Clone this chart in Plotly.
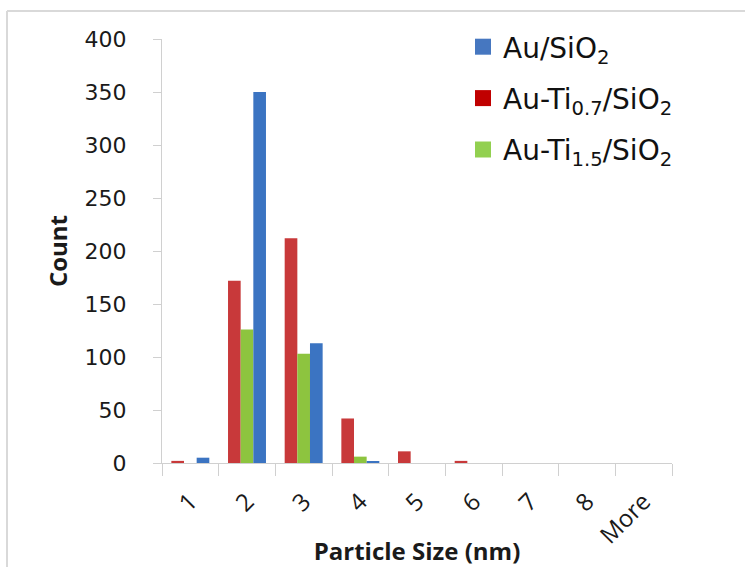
import plotly.graph_objects as go

categories = ["1", "2", "3", "4", "5", "6", "7", "8", "More"]
au_sio2 = [5, 350, 113, 1, 0, 0, 0, 0, 0]
au_ti07 = [2, 172, 212, 42, 11, 2, 0, 0, 0]
au_ti15 = [0, 126, 103, 6, 0, 0, 0, 0, 0]

names = ["Au/SiO<sub>2</sub>", "Au-Ti<sub>0.7</sub>/SiO<sub>2</sub>", "Au-Ti<sub>1.5</sub>/SiO<sub>2</sub>"]
bar_colors = ["#3B74C2", "#C8393A", "#8DC43F"]
legend_colors = ["#4677C0", "#C00000", "#92D050"]

FONT = "Open Sans"
WIDE = "DejaVu Sans"
L, R, T, B = 162, 73, 39, 104
W, H = 745, 567
pw, ph = W - L - R, H - T - B

def px(x):
    return (x - L) / pw

def py(y):
    return (H - B - y) / ph

fig = go.Figure()
# bar order within groups: red, green, blue
for vals, idx in [(au_ti07, 1), (au_ti15, 2), (au_sio2, 0)]:
    fig.add_trace(go.Bar(x=categories, y=vals, name=names[idx], showlegend=False,
                         marker=dict(color=bar_colors[idx], line=dict(width=0))))
# legend entries with larger square symbols
for i in range(3):
    fig.add_trace(go.Scatter(x=[None], y=[None], mode="markers", name=names[i],
                             legendgroup=f"g{i}",
                             marker=dict(symbol="square", size=20, color=legend_colors[i])))

fig.update_layout(
    width=W, height=H,
    margin=dict(l=L, r=R, t=T, b=B, pad=0),
    paper_bgcolor="white", plot_bgcolor="white",
    barmode="group", bargap=0.33, bargroupgap=0,
    font=dict(family=FONT, color="#1a1a1a", size=22),
    showlegend=True,
    legend=dict(x=px(463), y=py(22), xanchor="left", yanchor="top",
                font=dict(family=WIDE, size=28, color="#111"),
                bgcolor="rgba(0,0,0,0)", itemwidth=30, tracegroupgap=12,
                traceorder="grouped", itemsizing="trace"),
    xaxis=dict(
        title=dict(text="<b>Particle Size (nm)</b>", font=dict(size=24, family=FONT), standoff=0),
        tickangle=-45, showline=True, linecolor="#d0d0d0", linewidth=1,
        ticks="outside", ticklen=12, tickcolor="#d0d0d0", tickson="boundaries",
        tickfont=dict(size=24, family=FONT), showgrid=False, ticklabelstandoff=14,
        automargin=False,
    ),
    yaxis=dict(
        title=dict(text="<b>Count</b>", font=dict(size=24, family=FONT), standoff=10),
        range=[0, 400], dtick=50, showline=True, linecolor="#d0d0d0", linewidth=1,
        ticks="outside", ticklen=8, tickcolor="#d0d0d0", showgrid=False,
        tickfont=dict(size=22, family=WIDE), ticklabelstandoff=22, zeroline=False,
        automargin=False,
    ),
    shapes=[
        dict(type="line", xref="paper", yref="paper", x0=px(7), x1=px(745), y0=py(11), y1=py(11),
             line=dict(color="#d9d9d9", width=2)),
        dict(type="line", xref="paper", yref="paper", x0=px(7), x1=px(7), y0=py(11), y1=py(567),
             line=dict(color="#d9d9d9", width=2)),
    ],
)

fig.write_html("out.html")
